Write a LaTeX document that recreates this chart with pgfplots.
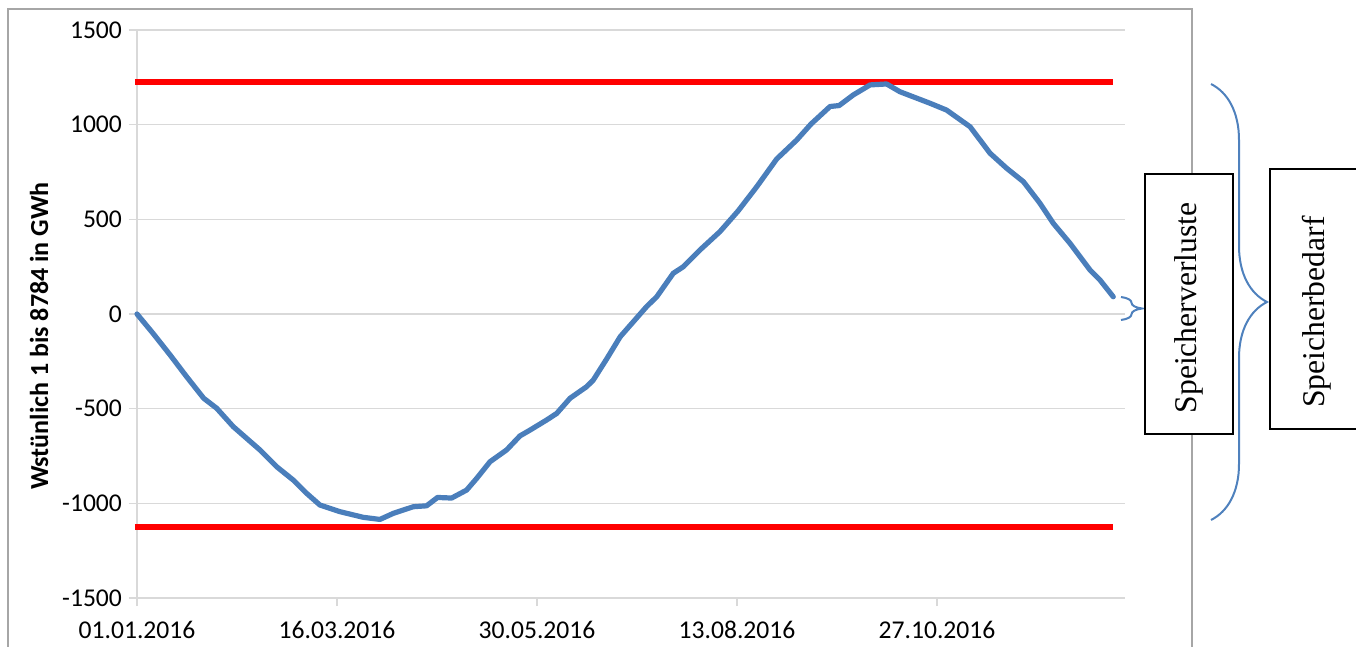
\documentclass[border=0pt]{standalone}
\usepackage{pgfplots}
\pgfplotsset{compat=1.18}
\usepackage{fontspec}
\setmainfont{Carlito}
\newfontfamily\serifbox{Liberation Serif}
\usetikzlibrary{decorations.pathreplacing}
\definecolor{curveblue}{HTML}{4A7EBB}
\definecolor{bracketblue}{HTML}{4F81BD}
\definecolor{gridgray}{HTML}{D9D9D9}
\definecolor{framegray}{HTML}{A6A6A6}
\begin{document}
\begin{tikzpicture}[x=0.5pt, y=-0.5pt]
\path[use as bounding box] (0,0) rectangle (1356,647);
% outer chart frame
\draw[framegray, line width=0.6pt] (8,647) -- (8,9) -- (1192,9) -- (1192,647);
\coordinate (sw) at (137,598);
\begin{axis}[
  at={(sw)}, anchor=south west,
  scale only axis, width=494pt, height=284pt,
  xmin=0, xmax=370.5, ymin=-1500, ymax=1500,
  axis lines*=left,
  axis line style={draw=gridgray, line width=0.6pt},
  tick align=outside, major tick length=4pt,
  tick style={draw=gridgray, line width=0.6pt},
  xtick={0,75,150,225,300},
  xticklabels={01.01.2016,16.03.2016,30.05.2016,13.08.2016,27.10.2016},
  ytick={-1500,-1000,-500,0,500,1000,1500},
  yticklabels={-1500,-1000,-500,0,500,1000,1500},
  ymajorgrids, grid style={draw=gridgray, line width=0.6pt},
  ticklabel style={font=\fontsize{12.8}{14}\selectfont, text=black},
  xticklabel style={yshift=-4pt},
  ylabel={Wstünlich 1 bis 8784 in GWh},
  ylabel style={at={(axis description cs:-0.0992,0.461)}, anchor=center,
    font=\bfseries\fontsize{13}{15}\selectfont},
  clip=false,
]
\addplot[red, line width=3pt] coordinates {(-0.75,1225) (366,1225)};
\addplot[red, line width=3pt] coordinates {(-0.75,-1125) (366,-1125)};
\addplot[curveblue, line width=2.6pt, line join=round, line cap=round] coordinates {
(0,0) (6,-102) (12.4,-216) (18.6,-331) (25,-445) (29.9,-498) (36.1,-595)
(46.1,-718) (52.4,-807) (58.6,-877) (63.6,-947) (68.6,-1009) (76.1,-1044)
(84.9,-1074) (91.1,-1085) (96.1,-1053) (103.6,-1018) (108.6,-1013)
(112.7,-969) (118,-972) (123.6,-930) (127.4,-868) (132.4,-780) (138.6,-718)
(143.6,-644) (147.4,-613) (153.6,-560) (157.4,-525) (162.4,-445) (168.6,-384)
(171.1,-349) (176.1,-238) (181.2,-120) (191.1,39) (194.9,91) (201.1,215)
(204.9,250) (211.1,338) (218.6,435) (225.4,544) (232.4,672) (239.9,819)
(247.4,919) (252.8,1004) (259.9,1096) (263.3,1101) (268.6,1157) (274.9,1210)
(281.1,1215) (286.1,1174) (297.4,1113) (303.6,1077) (312.4,989) (319.9,849)
(326.1,770) (332.4,699) (338.6,585) (343.6,479) (349.9,373) (357.4,232)
(361.1,180) (366.1,91)
};
\end{axis}
% braces
\draw[bracketblue, line width=1pt, decorate, decoration={brace, amplitude=10.5pt}]
  (1121,297) -- (1121,320);
\draw[bracketblue, line width=1pt, decorate, decoration={brace, amplitude=28pt}]
  (1211,84) -- (1211,520);
% text boxes
\draw[black, fill=white, line width=1pt] (1145,174) rectangle (1233,434);
\node[rotate=90, font=\serifbox\fontsize{15.8}{18}\selectfont] at (1189,308) {Speicherverluste};
\fill[white] (1270,169) rectangle (1356,429);
\draw[black, line width=1pt] (1356,169) -- (1270,169) -- (1270,429) -- (1356,429);
\node[rotate=90, font=\serifbox\fontsize{15.8}{18}\selectfont] at (1317,312) {Speicherbedarf};
\end{tikzpicture}
\end{document}
